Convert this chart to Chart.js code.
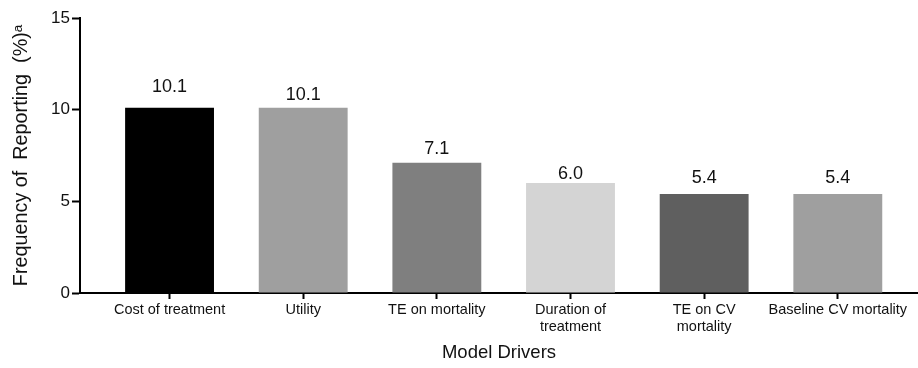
<!DOCTYPE html>
<html>
<head>
<meta charset="utf-8">
<script src="https://cdn.jsdelivr.net/npm/chart.js@4/dist/chart.umd.min.js"></script>
<style>
  html, body { margin: 0; padding: 0; background: #fff; }
  #wrap { width: 918px; height: 368px; }
</style>
</head>
<body>
<div id="wrap"><canvas id="chart-drivers"></canvas></div>
<script>
// categories + values
const driverLabels = [
  "Cost of treatment",
  "Utility",
  "TE on mortality",
  ["Duration of", "treatment"],
  ["TE on CV", "mortality"],
  "Baseline CV mortality",
];
const driverValues = [10.1, 10.1, 7.1, 6.0, 5.4, 5.4];
const valueText = ["10.1", "10.1", "7.1", "6.0", "5.4", "5.4"];
const yTicks = [0, 5, 10, 15];

// styling
const barColors = ["#000000", "#9f9f9f", "#7f7f7f", "#d4d4d4", "#5f5f5f", "#9f9f9f"];
const labelGap = [13, 5, 6, 1, 8, 8];
const fontFamily = "'Liberation Sans', Arial, sans-serif";

// draw the value above each bar
const valueLabels = {
  id: "valueLabels",
  afterDatasetsDraw(chart) {
    const ctx = chart.ctx;
    const meta = chart.getDatasetMeta(0);
    ctx.save();
    ctx.font = "18px " + fontFamily;
    ctx.fillStyle = "#111";
    ctx.textAlign = "center";
    ctx.textBaseline = "bottom";
    meta.data.forEach((bar, i) => {
      ctx.fillText(valueText[i], bar.x, bar.y - labelGap[i] + 1);
    });
    ctx.restore();
  },
};

const ctxDrivers = document.getElementById("chart-drivers");
new Chart(ctxDrivers, {
  type: "bar",
  data: {
    datasets: [
      {
        data: driverValues.map((v, i) => ({ x: i, y: v })),
        backgroundColor: barColors,
        borderWidth: 0,
        categoryPercentage: 1,
        barPercentage: 0.665,
      },
    ],
  },
  plugins: [valueLabels],
  options: {
    responsive: true,
    maintainAspectRatio: false,
    animation: false,
    layout: { padding: { top: 18, right: 0, left: 0, bottom: 0 } },
    plugins: {
      legend: { display: false },
      tooltip: { enabled: false },
    },
    scales: {
      x: {
        type: "linear",
        offset: false,
        min: -0.67,
        max: 5.6,
        afterBuildTicks: (scale) => {
          scale.ticks = driverLabels.map((l, i) => ({ value: i }));
        },
        afterFit: (scale) => {
          scale.height = 75;
        },
        border: { color: "#000", width: 2 },
        grid: {
          offset: false,
          drawOnChartArea: false,
          tickLength: 6,
          tickWidth: 2,
          tickColor: "#000",
        },
        ticks: {
          autoSkip: false,
          maxRotation: 0,
          padding: 3,
          color: "#111",
          font: { family: fontFamily, size: 14.5, lineHeight: 1.15 },
          callback: (v) => driverLabels[v],
        },
        title: {
          display: true,
          text: "Model Drivers",
          color: "#111",
          font: { family: fontFamily, size: 18.5 },
          padding: { top: 14, bottom: 4 },
        },
      },
      y: {
        min: 0,
        max: 15,
        afterBuildTicks: (scale) => {
          scale.ticks = yTicks.map((v) => ({ value: v }));
        },
        afterFit: (scale) => {
          scale.width = 80;
        },
        border: { color: "#000", width: 2 },
        grid: {
          drawOnChartArea: false,
          tickLength: 8,
          tickWidth: 2,
          tickColor: "#000",
        },
        ticks: {
          padding: 2,
          color: "#111",
          font: { family: fontFamily, size: 17 },
        },
        title: {
          display: true,
          text: "Frequency of  Reporting  (%)\u1D43",
          color: "#111",
          font: { family: fontFamily, size: 19.8 },
          padding: { top: 10, bottom: 0 },
        },
      },
    },
  },
});
</script>
</body>
</html>
